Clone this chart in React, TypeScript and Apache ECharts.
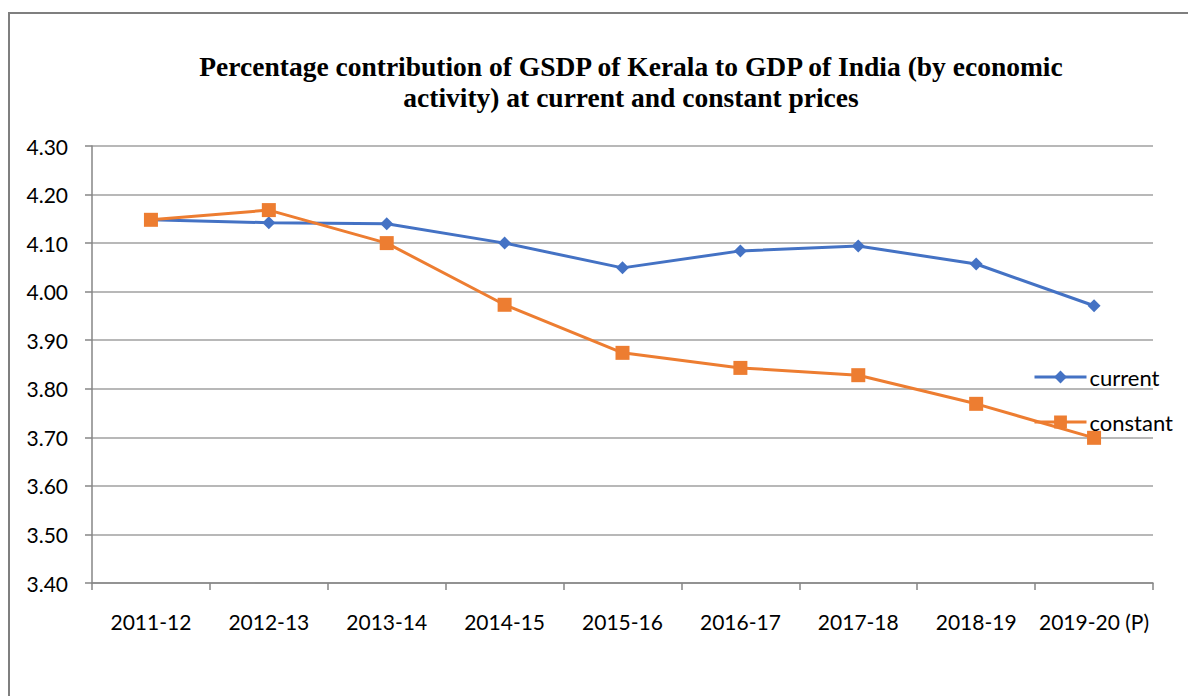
import React, { useEffect, useRef } from "react";
import * as echarts from "echarts";

const categories = ["2011-12", "2012-13", "2013-14", "2014-15", "2015-16", "2016-17", "2017-18", "2018-19", "2019-20 (P)"];
const currentValues = [4.148, 4.142, 4.14, 4.1, 4.049, 4.084, 4.094, 4.057, 3.971];
const constantValues = [4.148, 4.168, 4.1, 3.973, 3.874, 3.843, 3.828, 3.769, 3.699];
const titleText = "Percentage contribution of GSDP of Kerala to GDP of India (by economic\nactivity) at current and constant prices";

export default function App() {
  const ref = useRef<HTMLDivElement>(null);
  useEffect(() => {
    if (!ref.current) return;
    const chart = echarts.init(ref.current, null, { renderer: "svg" });
    const labelFont = "Lato, 'Open Sans', sans-serif";
    chart.setOption({
      animation: false,
      backgroundColor: "#ffffff",
      title: {
        text: titleText,
        left: 626,
        top: 46,
        textAlign: "center",
        textStyle: {
          fontFamily: "'Liberation Serif', 'Times New Roman', serif",
          fontWeight: "bold",
          fontSize: 27.5,
          lineHeight: 31,
          color: "#000000",
        },
      },
      legend: {
        orient: "vertical",
        left: 1028,
        top: 361,
        itemWidth: 52,
        itemHeight: 16,
        itemGap: 23,
        lineStyle: { width: 3 },
        textStyle: { fontFamily: labelFont, fontSize: 22, color: "#000000", padding: [0, 0, 0, -2] },
        data: ["current", "constant"],
      },
      grid: { left: 92, right: 35, top: 146, bottom: 113, containLabel: false },
      xAxis: {
        type: "category",
        data: categories,
        boundaryGap: true,
        axisLine: { lineStyle: { color: "#868686", width: 1.5 } },
        axisTick: { show: true, interval: 0, length: 7, lineStyle: { color: "#868686", width: 1.5 } },
        axisLabel: { interval: 0, fontFamily: labelFont, fontSize: 21, color: "#000000", margin: 28 },
      },
      yAxis: {
        type: "value",
        min: 3.4,
        max: 4.3,
        interval: 0.1,
        axisLine: { show: true, lineStyle: { color: "#868686", width: 1.5 } },
        axisTick: { show: true, length: 7, lineStyle: { color: "#868686", width: 1.5 } },
        axisLabel: {
          fontFamily: labelFont,
          fontSize: 21,
          color: "#000000",
          margin: 24,
          formatter: (v: number) => v.toFixed(2),
        },
        splitLine: { show: true, lineStyle: { color: "#a0a0a0", width: 1.5 } },
      },
      series: [
        {
          name: "current",
          type: "line",
          data: currentValues,
          symbol: "diamond",
          symbolSize: 13,
          itemStyle: { color: "#4472C4" },
          lineStyle: { color: "#4472C4", width: 3 },
        },
        {
          name: "constant",
          type: "line",
          data: constantValues,
          symbol: "rect",
          symbolSize: 14,
          itemStyle: { color: "#ED7D31" },
          lineStyle: { color: "#ED7D31", width: 3 },
        },
      ],
      graphic: [
        {
          type: "rect",
          shape: { x: 9, y: 13, width: 1220, height: 720 },
          style: { fill: "none", stroke: "#7f7f7f", lineWidth: 2 },
          silent: true,
        },
      ],
    });
    return () => chart.dispose();
  }, []);
  return (
    <div
      ref={ref}
      style={{ position: "absolute", left: 0, top: 0, width: 1188, height: 696 }}
    />
  );
}
